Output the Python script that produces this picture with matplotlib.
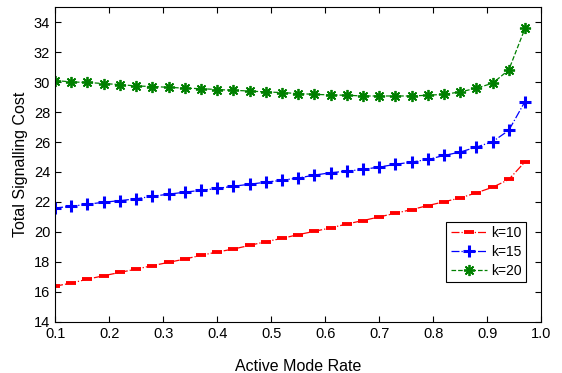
import matplotlib
matplotlib.use("Agg")
import matplotlib.pyplot as plt
import numpy as np

plt.rcParams['font.family'] = ['Liberation Sans', 'DejaVu Sans']

x = [0.10, 0.13, 0.16, 0.19, 0.22, 0.25, 0.28, 0.31, 0.34, 0.37,
     0.40, 0.43, 0.46, 0.49, 0.52, 0.55, 0.58, 0.61, 0.64, 0.67,
     0.70, 0.73, 0.76, 0.79, 0.82, 0.85, 0.88, 0.91, 0.94, 0.97]
k10 = [16.38, 16.59, 16.85, 17.08, 17.30, 17.52, 17.75, 17.97, 18.19, 18.44,
       18.66, 18.86, 19.10, 19.35, 19.57, 19.82, 20.04, 20.27, 20.53, 20.76,
       21.00, 21.25, 21.49, 21.76, 22.01, 22.27, 22.61, 22.98, 23.50, 24.68]
k15 = [21.60, 21.71, 21.85, 21.98, 22.09, 22.21, 22.38, 22.52, 22.65, 22.78,
       22.90, 23.05, 23.18, 23.32, 23.45, 23.60, 23.79, 23.95, 24.06, 24.17,
       24.33, 24.51, 24.66, 24.84, 25.10, 25.33, 25.66, 26.02, 26.78, 28.70]
k20 = [30.10, 30.01, 29.97, 29.90, 29.83, 29.74, 29.70, 29.65, 29.59, 29.56,
       29.50, 29.45, 29.40, 29.34, 29.30, 29.23, 29.18, 29.14, 29.12, 29.07,
       29.07, 29.07, 29.07, 29.12, 29.18, 29.34, 29.59, 29.92, 30.81, 33.58]
labels = ['k=10', 'k=15', 'k=20']

fig = plt.figure(figsize=(5.62, 3.73), dpi=100)
ax = fig.add_axes([0.098, 0.137, 0.865, 0.844])

ax.plot(x, k10, color='red', linestyle='-.', linewidth=0.9, marker='_',
        markersize=7, markeredgewidth=2.8, label=labels[0])
ax.plot(x, k15, color='blue', linestyle='-.', linewidth=0.9, marker='+',
        markersize=8, markeredgewidth=2.2, label=labels[1])
ax.plot(x, k20, color='green', linestyle='--', linewidth=0.9, marker=(8, 2, 0),
        markersize=8, markeredgewidth=1.3, label=labels[2])

ax.set_xlim(0.1, 1.0)
ax.set_ylim(14, 35)
ax.set_xticks(np.arange(0.1, 1.01, 0.1))
ax.set_xticklabels(['%.1f' % v for v in np.arange(0.1, 1.01, 0.1)])
ax.set_yticks(np.arange(14, 35, 2))
ax.tick_params(direction='in', top=True, right=True, labelsize=10.5, length=4, width=0.8)
for s in ax.spines.values():
    s.set_linewidth(0.8)

ax.set_xlabel('Active Mode Rate', fontsize=11.5, labelpad=13)
ax.set_ylabel('Total Signalling Cost', fontsize=11.5, labelpad=4)

leg = ax.legend(loc='upper left', bbox_to_anchor=(0.805, 0.318), fontsize=10,
                frameon=True, fancybox=False, edgecolor='black', framealpha=1,
                borderpad=0.3, labelspacing=0.35, handlelength=2.6,
                handletextpad=0.3, borderaxespad=0)
leg.get_frame().set_linewidth(0.8)

fig.savefig('out.png', dpi=100)
